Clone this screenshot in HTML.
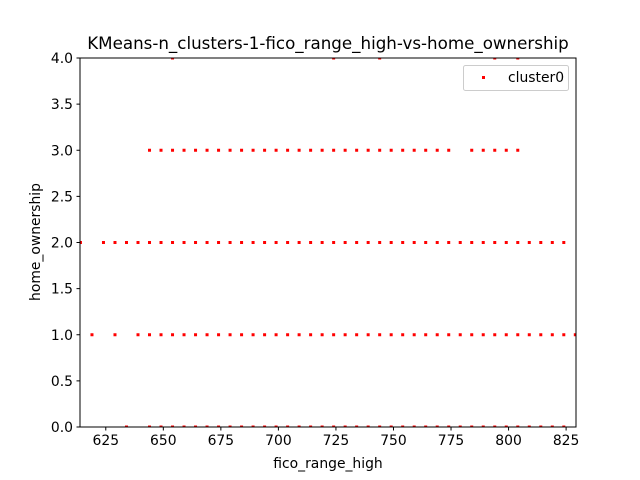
<!DOCTYPE html>
<html><head><meta charset="utf-8"><style>
html,body{margin:0;padding:0;background:#fff;}
svg{display:block;font-family:"DejaVu Sans","Liberation Sans",sans-serif;}
</style></head><body>
<svg id="chart" width="640" height="480" viewBox="0 0 640 480">
<rect width="640" height="480" fill="#fff"/>
<text x="328" y="49" text-anchor="middle" font-size="16.7">KMeans-n_clusters-1-fico_range_high-vs-home_ownership</text>
<g id="plot"></g>
<g id="axes"></g>
<g>
<rect x="463.5" y="65.5" width="105" height="25" rx="2" fill="#fff" fill-opacity="0.8" stroke="#ccc"/>
<rect x="482" y="76" width="3" height="3" fill="red"/>
<text x="508" y="82" font-size="13.9">cluster0</text>
</g>
<text x="328" y="468" text-anchor="middle" font-size="13.9">fico_range_high</text>
<text transform="translate(40,242) rotate(-90)" text-anchor="middle" font-size="13.9">home_ownership</text>
</svg>
<script>
const xTicks = [625,650,675,700,725,750,775,800,825];
const yTicks = [0.0,0.5,1.0,1.5,2.0,2.5,3.0,3.5,4.0];
function range(a,b){const r=[];for(let v=a;v<=b;v+=5)r.push(v);return r;}
const row3 = range(644,774).concat(range(784,804));
const row2 = [614].concat(range(624,824));
const row1 = [619,629,639].concat(range(644,829));
const row0 = [634].concat(range(644,824));
const row4 = [654,724,744,794,804];
const series = [[0,row0],[1,row1],[2,row2],[3,row3],[4,row4]];
const X0=80,X1=576,Y0=427,Y1=58, xmin=613.8, xmax=829.3, ymin=0, ymax=4;
function sx(v){return X0+(v-xmin)/(xmax-xmin)*(X1-X0);}
function sy(v){return Y0-(v-ymin)/(ymax-ymin)*(Y0-Y1);}
const NS="http://www.w3.org/2000/svg";
const plot=document.getElementById('plot'), axes=document.getElementById('axes');
function mk(tag,attrs,parent){const e=document.createElementNS(NS,tag);for(const k in attrs)e.setAttribute(k,attrs[k]);parent.appendChild(e);return e;}
const clip=mk('clipPath',{id:'cp'},plot);mk('rect',{x:X0,y:Y1,width:X1-X0,height:Y0-Y1},clip);
const pg=mk('g',{'clip-path':'url(#cp)'},plot);
series.forEach(([y,xs])=>xs.forEach(x=>{
  const r=mk('rect',{x:sx(x)-1.5,y:sy(y)-1.5,width:3,height:3,fill:'red'},pg);
  
  
}));
const frame=mk('rect',{x:X0,y:Y1,width:X1-X0,height:Y0-Y1,fill:'none',stroke:'#000','stroke-width':1},axes);


xTicks.forEach(t=>{const x=sx(t);
  mk('line',{x1:x,x2:x,y1:Y0,y2:Y0+3.5,stroke:'#000'},axes);
  const l=mk('text',{x:x,y:Y0+18,'text-anchor':'middle','font-size':13.9},axes);l.textContent=t;
  
  
});
yTicks.forEach(t=>{const y=sy(t);
  mk('line',{x1:X0-3.5,x2:X0,y1:y,y2:y,stroke:'#000'},axes);
  const l=mk('text',{x:X0-7,y:y+5,'text-anchor':'end','font-size':13.9},axes);l.textContent=t.toFixed(1);
  
  
});
</script>
</body></html>
